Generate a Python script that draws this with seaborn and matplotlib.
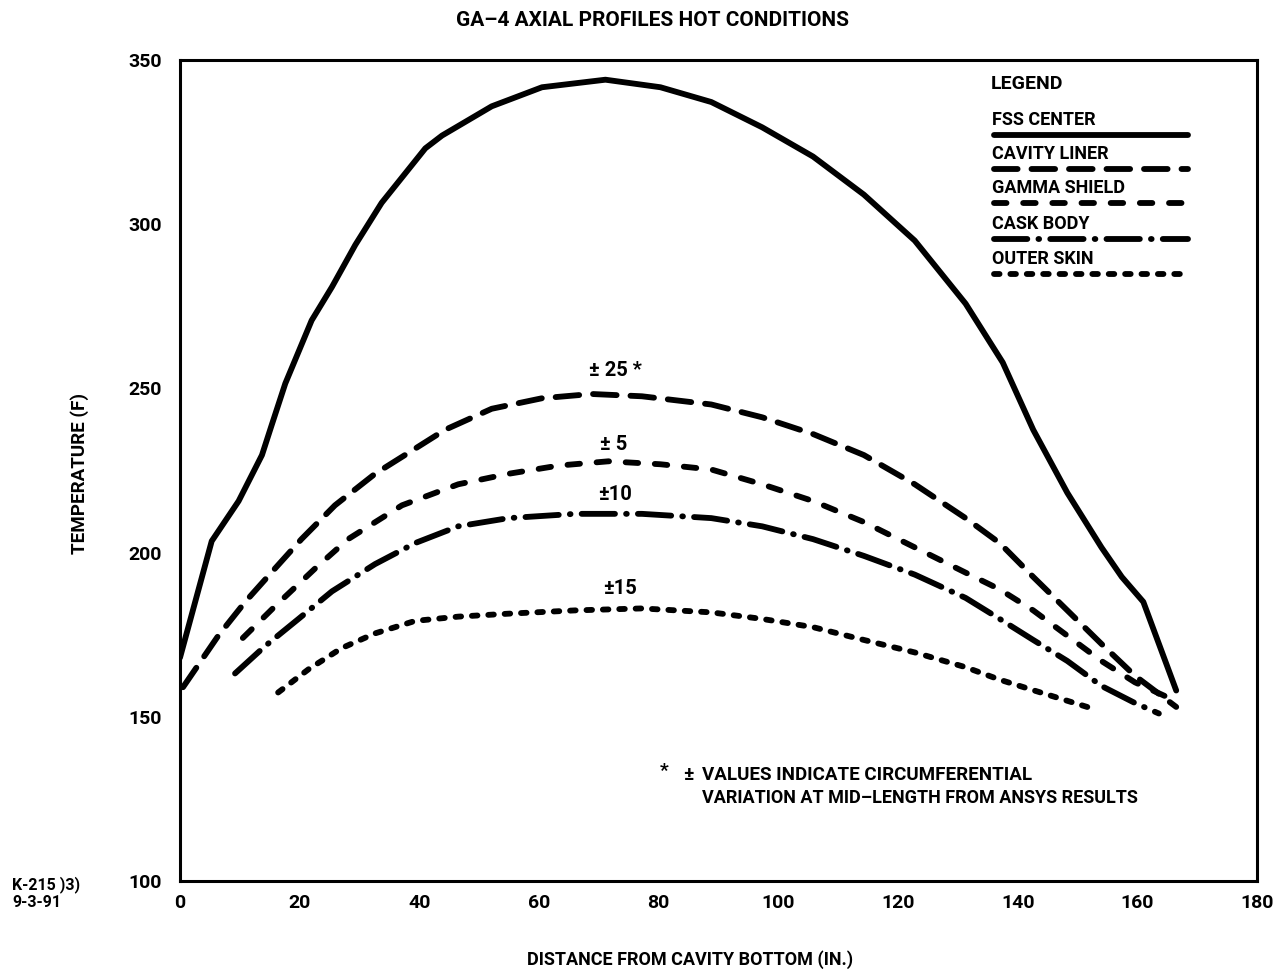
import matplotlib
matplotlib.use("Agg")
import matplotlib.pyplot as plt
import seaborn as sns
import pandas as pd

# ---------------- data ----------------
fss_x = [0, 5.3, 9.8, 13.7, 15.3, 17.6, 22.0, 25.4, 29.3, 33.7, 41.0, 43.8, 52.1, 60.5, 71.1,
         80.3, 88.8, 97.3, 105.8, 114.3, 122.8, 131.3, 137.5, 142.6, 148.3, 154.0, 157.4, 161.0, 166.5]
fss_t = [168, 203.5, 215.7, 229.7, 238.7, 251.5, 270.7, 280.9, 293.7, 306.5, 323.1, 327, 335.9, 341.7, 344,
         341.7, 337.2, 329.5, 320.6, 309, 295, 275.8, 257.9, 237.4, 218.2, 201.6, 192.6, 185, 158]

liner_x = [0.5, 6.4, 10.9, 15.9, 20.3, 25.9, 32.6, 38.2, 44.3, 52.1, 60.5, 68.8, 77.2,
           88.8, 97.3, 105.8, 114.3, 122.8, 131.3, 137.0, 142.6, 148.3, 154.0, 159.6, 166.5]
liner_t = [159, 174.7, 185, 195.2, 204.1, 214.4, 224, 230.4, 237.4, 243.8, 247, 248.3, 247.6,
           245.1, 241.2, 236.1, 229.7, 220.8, 210.5, 202.9, 192.6, 182.4, 172.2, 162.5, 153]

gamma_x = [10.5, 15.9, 22.6, 28.1, 37.1, 46.5, 54.9, 63.3, 71.6, 80.3,
           88.8, 97.3, 105.8, 114.3, 122.8, 131.3, 137.0, 142.6, 148.3, 154.0, 159.6, 165.0]
gamma_t = [174, 183.7, 195.2, 204.1, 214.4, 220.8, 224, 226.5, 227.8, 226.9,
           225.3, 220.8, 215.7, 209.3, 201.6, 193.9, 188.8, 182.4, 174.7, 167, 160.5, 156]

cask_x = [9.2, 14.2, 19.8, 25.4, 32.6, 39.3, 46.5, 54.9, 66.0, 77.2,
          88.8, 97.3, 105.8, 114.3, 122.8, 131.3, 137.0, 142.6, 148.3, 154.0, 159.6, 163.6]
cask_t = [163.2, 171.5, 179.8, 188.2, 196.5, 202.9, 208, 210.5, 211.8, 211.8,
          210.5, 208, 204.1, 199, 193.3, 186.2, 179.8, 173.4, 167, 159.4, 154.2, 151]

skin_x = [16.4, 21.5, 27.0, 32.6, 39.3, 46.5, 54.9, 66.0, 77.2,
          88.8, 97.3, 105.8, 114.3, 122.8, 131.3, 137.0, 142.6, 152.5]
skin_t = [157.4, 164.5, 170.9, 175.4, 179.2, 180.5, 181.4, 182.4, 183,
          181.8, 179.8, 177.3, 173.4, 169.6, 165.1, 161.3, 158.1, 152.5]

series_names = ["FSS CENTER", "CAVITY LINER", "GAMMA SHIELD", "CASK BODY", "OUTER SKIN"]
series_x = [fss_x, liner_x, gamma_x, cask_x, skin_x]
series_t = [fss_t, liner_t, gamma_t, cask_t, skin_t]

x_ticks = [0, 20, 40, 60, 80, 100, 120, 140, 160, 180]
y_ticks = [100, 150, 200, 250, 300, 350]

variation_labels = ["\u00b1 25 *", "\u00b1 5", "\u00b110", "\u00b115"]
variation_x = [72.7, 72.4, 72.7, 73.6]
variation_t = [255.6, 232.8, 217.8, 189.2]

# ---------------- style ----------------
sns.set_style("white")
plt.rcParams["font.family"] = ["Liberation Sans Narrow", "Roboto", "DejaVu Sans"]
plt.rcParams["font.weight"] = "bold"
plt.rcParams["text.color"] = "black"
plt.rcParams["axes.labelcolor"] = "black"
plt.rcParams["xtick.color"] = "black"
plt.rcParams["ytick.color"] = "black"
plt.rcParams["lines.scale_dashes"] = False

dash_styles = {
    "FSS CENTER": "-",
    "CAVITY LINER": (0, (17, 10)),
    "GAMMA SHIELD": (0, (9, 12)),
    "CASK BODY": (0, (24, 8, 0.5, 8)),
    "OUTER SKIN": (0, (4, 7.8)),
}

fig = plt.figure(figsize=(12.75, 9.71), dpi=100)
ax = fig.add_axes([180 / 1275, 1 - 881 / 971, (1257 - 180) / 1275, (881 - 60) / 971])

for name, xs, ts in zip(series_names, series_x, series_t):
    df = pd.DataFrame({"x": xs, "t": ts})
    sns.lineplot(data=df, x="x", y="t", ax=ax, color="black", linewidth=4.2,
                 linestyle=dash_styles[name], sort=False, estimator=None,
                 solid_capstyle="round", dash_capstyle="round", solid_joinstyle="round")

ax.set_xlim(0, 180)
ax.set_ylim(100, 350)
ax.set_xticks(x_ticks)
ax.set_yticks(y_ticks)
ax.set_xticklabels([str(v) for v in x_ticks], fontsize=14, fontweight="bold")
ax.set_yticklabels([str(v) for v in y_ticks], fontsize=14, fontweight="bold")
ax.tick_params(direction="in", length=6, width=2, colors="black")
ax.tick_params(axis="x", pad=9)
ax.tick_params(axis="y", pad=13)
for s in ax.spines.values():
    s.set_visible(True)
    s.set_linewidth(2.2)
    s.set_color("black")
ax.set_xlabel("")
ax.set_ylabel("")

# axis labels & title
fig.text(690 / 1275, 1 - 960 / 971, "DISTANCE FROM CAVITY BOTTOM (IN.)", ha="center", va="center",
         fontsize=13, fontweight="bold")
fig.text(80 / 1275, 1 - 473 / 971, "TEMPERATURE (F)", ha="center", va="center", rotation=90,
         fontsize=13.5, fontweight="bold")
fig.text(652 / 1275, 1 - 20 / 971, "GA\u20134 AXIAL PROFILES HOT CONDITIONS", ha="center", va="center",
         fontsize=15, fontweight="bold")
fig.text(12 / 1275, 1 - 893 / 971, "K-215 )3)\n9-3-91", ha="left", va="center",
         fontsize=11.5, fontweight="bold", linespacing=1.15)

# variation labels
for lab, xv, tv in zip(variation_labels, variation_x, variation_t):
    ax.text(xv, tv, lab, ha="center", va="center", fontsize=14.5, fontweight="bold")

# footnote
ax.text(87.3, 132.3, "VALUES INDICATE CIRCUMFERENTIAL", ha="left", va="center", fontsize=13.5,
        fontweight="bold")
ax.text(87.3, 125.3, "VARIATION AT MID\u2013LENGTH FROM ANSYS RESULTS", ha="left", va="center",
        fontsize=13, fontweight="bold")
ax.text(81.0, 133.5, "*", ha="center", va="center", fontsize=14, fontweight="bold")
ax.text(84.9, 132.3, "\u00b1", ha="center", va="center", fontsize=14, fontweight="bold")

# legend (drawn in axes coordinates)
def fx(px):
    return (px - 180) / (1257 - 180)

def fy(py):
    return (881 - py) / (881 - 60)

ax.text(fx(991), fy(84), "LEGEND", transform=ax.transAxes, ha="left", va="center",
        fontsize=14, fontweight="bold")
legend_text_y = [120, 154, 188, 224, 259]
for name, ty in zip(series_names, legend_text_y):
    ax.text(fx(992), fy(ty), name, transform=ax.transAxes, ha="left", va="center",
            fontsize=13, fontweight="bold")
    ax.plot([fx(994), fx(1188)], [fy(ty + 15), fy(ty + 15)], transform=ax.transAxes,
            color="black", linewidth=4.2, linestyle=dash_styles[name],
            solid_capstyle="round", dash_capstyle="round")

fig.savefig("out.png", dpi=100, facecolor="white")
